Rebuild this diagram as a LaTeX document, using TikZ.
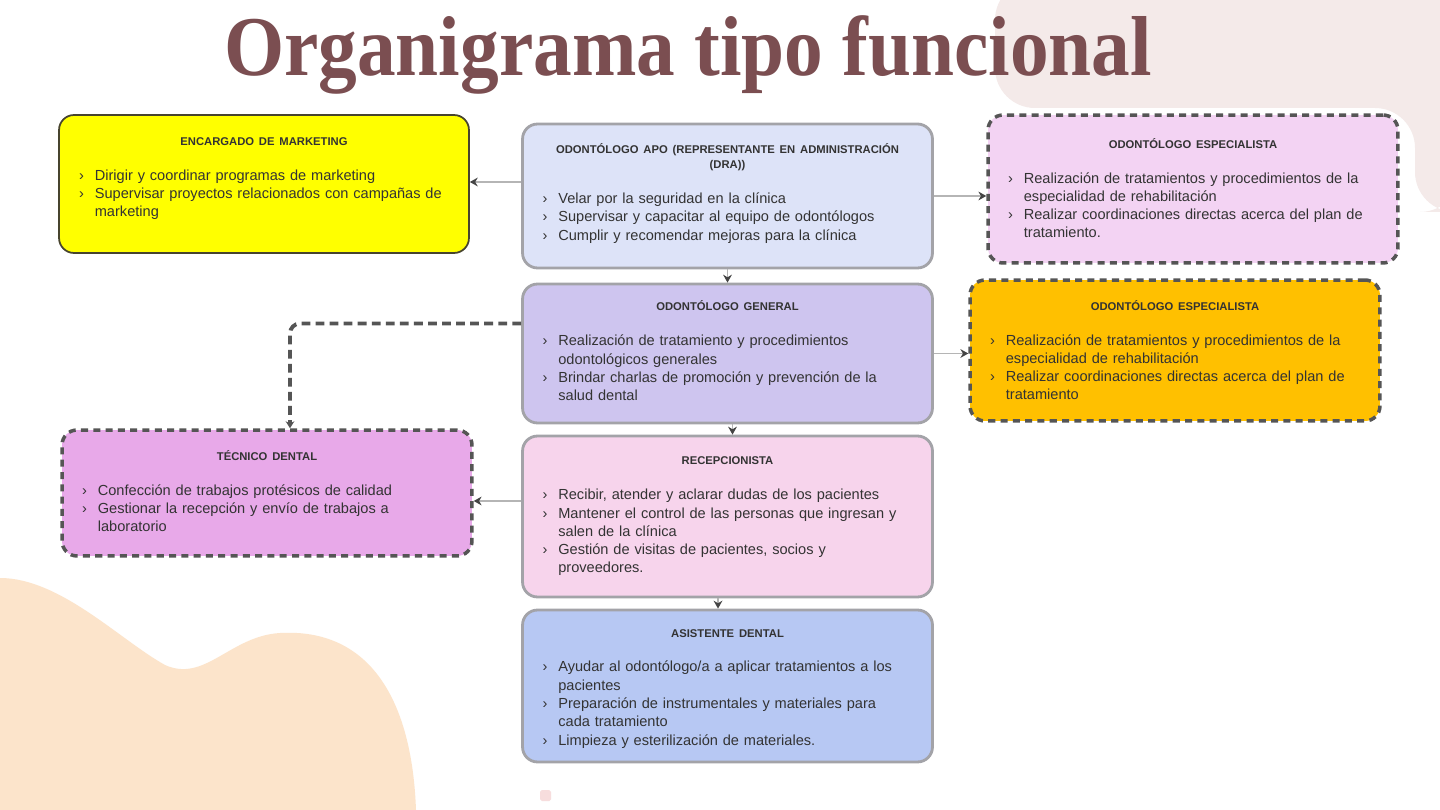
\documentclass[tikz,border=0pt]{standalone}
\usepackage{fontspec}
\setmainfont{Liberation Sans}
\newfontfamily\titlefont{Liberation Serif}
\usetikzlibrary{arrows.meta}
\hyphenpenalty=10000
\exhyphenpenalty=10000

\definecolor{titlebrown}{HTML}{7B4E51}
\definecolor{peach}{HTML}{FCE4CB}
\definecolor{palerose}{HTML}{F4EAE9}
\definecolor{mktyellow}{HTML}{FFFF00}
\definecolor{adminblue}{HTML}{DDE3F8}
\definecolor{especpink}{HTML}{F3D3F3}
\definecolor{generalviolet}{HTML}{CEC5EF}
\definecolor{especorange}{HTML}{FFC000}
\definecolor{tecnicomauve}{HTML}{E8A9E9}
\definecolor{receppink}{HTML}{F7D4EC}
\definecolor{asistblue}{HTML}{B7C8F3}
\definecolor{boxgrey}{HTML}{A3A3A8}
\definecolor{dashgrey}{HTML}{555555}
\definecolor{linegrey}{HTML}{B5B5B5}
\definecolor{tipgrey}{HTML}{444444}
\definecolor{boxtext}{HTML}{333333}

\newcommand{\rolehead}[1]{{\centering\bfseries\fontsize{6.4}{8.6}\selectfont #1\par}\vspace{9.5pt}}
\newcommand{\duty}[1]{{\hangindent=9pt\hangafter=1\noindent\makebox[9pt][l]{›}#1\par}}

\tikzset{
  rolebox/.style={draw=boxgrey, line width=1.6pt, rounded corners=0.3cm,
    minimum width=8.2cm, text width=7.4cm, inner xsep=0.4cm, align=left,
    font=\fontsize{8.3}{10.4}\selectfont, text=boxtext},
  dashbox/.style={rolebox, draw=dashgrey, line width=2pt, dash pattern=on 4pt off 3pt},
  pushup/.style={execute at end node={\par\vspace{#1}}},
  link/.style={draw=linegrey, line width=0.8pt, -{Stealth[length=4.5pt,width=5pt,color=tipgrey]}},
  dashlink/.style={draw=dashgrey, line width=2.2pt, dash pattern=on 5pt off 3pt,
    rounded corners=0.2cm, -{Stealth[length=4pt,width=5pt]}},
}

\begin{document}
\begin{tikzpicture}[x=0.02cm,y=-0.02cm]
\useasboundingbox (0,0) rectangle (1440,810);
\fill[white] (0,0) rectangle (1440,810);

% background
\fill[palerose, rounded corners=0.8cm] (995,-20) -- (995,108) -- (1415,108) -- (1415,212) -- (1460,212) -- (1460,-20) -- cycle;
\fill[peach] (0,578) .. controls (60,578) and (120,640) .. (165,665)
  .. controls (205,683) and (230,636) .. (280,633)
  .. controls (370,628) and (412,700) .. (416,810) -- (0,810) -- cycle;
\fill[palerose!70!pink, rounded corners=1pt] (540,790) rectangle (551,801);

\node[anchor=base, text=titlebrown, font=\titlefont\bfseries\fontsize{44}{44}\selectfont, yscale=1.1] (title) at (688,76) {Organigrama tipo funcional};

\node[rolebox, fill=mktyellow, draw=black!65!olive, line width=1pt, minimum height=2.76cm, pushup=6pt] (mkt) at (264,184) {%
\rolehead{ENCARGADO DE MARKETING}
\duty{Dirigir y coordinar programas de marketing}
\duty{Supervisar proyectos relacionados con campañas de marketing}};

\node[rolebox, fill=adminblue, minimum height=2.88cm, pushup=3pt] (admin) at (727.5,196) {%
\rolehead{ODONTÓLOGO APO (REPRESENTANTE EN ADMINISTRACIÓN (DRA))}
\duty{Velar por la seguridad en la clínica}
\duty{Supervisar y capacitar al equipo de odontólogos}
\duty{Cumplir y recomendar mejoras para la clínica}};

\node[dashbox, fill=especpink, minimum height=2.96cm, pushup=1pt] (espec1) at (1193,189) {%
\rolehead{ODONTÓLOGO ESPECIALISTA}
\duty{Realización de tratamientos y procedimientos de la especialidad de rehabilitación}
\duty{Realizar coordinaciones directas acerca del plan de tratamiento.}};

\node[rolebox, fill=generalviolet, minimum height=2.78cm, pushup=3pt] (general) at (727.5,353.5) {%
\rolehead{ODONTÓLOGO GENERAL}
\duty{Realización de tratamiento y procedimientos odontológicos generales}
\duty{Brindar charlas de promoción y prevención de la salud dental}};

\node[dashbox, fill=especorange, minimum height=2.82cm, pushup=0.5pt] (espec2) at (1175,350.5) {%
\rolehead{ODONTÓLOGO ESPECIALISTA}
\duty{Realización de tratamientos y procedimientos de la especialidad de rehabilitación}
\duty{Realizar coordinaciones directas acerca del plan de tratamiento}};

\node[dashbox, fill=tecnicomauve, minimum height=2.52cm, pushup=2pt] (tecnico) at (267,493) {%
\rolehead{TÉCNICO DENTAL}
\duty{Confección de trabajos protésicos de calidad}
\duty{Gestionar la recepción y envío de trabajos a laboratorio}};

\node[rolebox, fill=receppink, minimum height=3.22cm, pushup=0pt] (recep) at (727.5,516.5) {%
\rolehead{RECEPCIONISTA}
\duty{Recibir, atender y aclarar dudas de los pacientes}
\duty{Mantener el control de las personas que ingresan y salen de la clínica}
\duty{Gestión de visitas de pacientes, socios y proveedores.}};

\node[rolebox, fill=asistblue, minimum height=3.04cm, pushup=-3pt] (asist) at (727.5,686) {%
\rolehead{ASISTENTE DENTAL}
\duty{Ayudar al odontólogo/a a aplicar tratamientos a los pacientes}
\duty{Preparación de instrumentales y materiales para cada tratamiento}
\duty{Limpieza y esterilización de materiales.}};

\draw[link] ([yshift=0.28cm]admin.west) -- ([yshift=0.28cm]admin.west -| mkt.east);
\draw[link] (admin.east) -- (admin.east -| espec1.west);
\draw[link] (admin.south) -- (general.north);
\draw[link] (general.east) -- (general.east -| espec2.west);
\draw[link] ([xshift=0.1cm]general.south) -- ([xshift=0.1cm]recep.north);
\draw[link] ([yshift=0.31cm]recep.west) -- ([yshift=0.31cm]recep.west -| tecnico.east);
\draw[link] ([xshift=-0.19cm]recep.south) -- ([xshift=-0.19cm]asist.north);
\draw[dashlink] ([yshift=0.6cm]general.west) -| ([xshift=0.46cm]tecnico.north);
\end{tikzpicture}
\end{document}
